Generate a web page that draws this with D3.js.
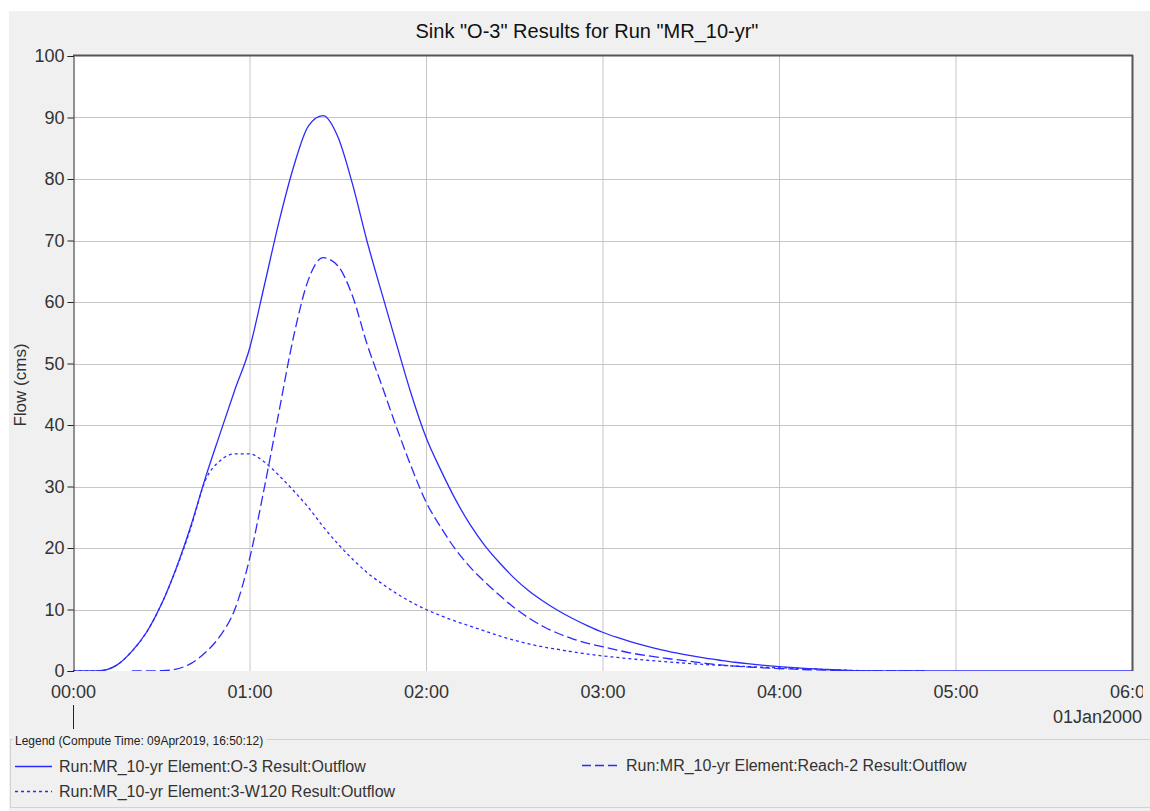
<!DOCTYPE html>
<html>
<head>
<meta charset="utf-8">
<script src="https://cdn.jsdelivr.net/npm/d3@7"></script>
<style>
  html, body { margin: 0; padding: 0; background: #ffffff; }
  svg { display: block; font-family: "Liberation Sans", Arial, sans-serif; }
</style>
</head>
<body>
<svg id="chart" width="1150" height="811"></svg>
<script>
// ---- data (minutes after 00:00, flow in cms) ----
const timesMin = [0,5,10,15,20,25,30,35,40,45,50,55,60,65,70,75,80,85,90,95,100,105,110,115,120,125,130,135,140,145,150,155,160,165,170,175,180,185,190,195,200,205,210,215,220,225,230,235,240,245,250,255,260,265,270,275,280,285,290,300,330,360];
const o3Outflow = [0,0,0.1,1.0,3.2,6.3,10.8,16.6,23.5,31.4,38.6,45.7,52.4,62.6,73.0,82.0,88.6,90.3,86.9,79.2,69.8,61.4,53.1,45.0,38.0,32.7,27.9,23.8,20.4,17.6,15.1,13.0,11.3,9.8,8.5,7.35,6.3,5.45,4.7,4.05,3.45,2.95,2.5,2.1,1.75,1.42,1.15,0.92,0.72,0.55,0.4,0.28,0.16,0.07,0.03,0.01,0,0,0,0,0,0];
const reach2Outflow = [null,null,null,null,0,0,0.05,0.3,1.2,3.0,5.7,10.0,18.2,29.7,42.1,54.4,63.6,67.2,65.9,61.0,53.1,46.4,39.6,33.2,27.5,23.4,19.8,16.9,14.5,12.3,10.3,8.6,7.2,6.1,5.2,4.5,3.95,3.4,2.9,2.5,2.15,1.85,1.55,1.25,1.0,0.8,0.65,0.5,0.4,0.3,0.2,0.15,0.1,0.05,0.03,0.02,0.01,0.01,0.01,null,null,null];
const w120Outflow = [0,0,0.1,1.0,3.2,6.3,10.8,16.5,23.2,31.0,34.2,35.3,35.3,34.0,31.8,29.3,26.6,23.5,20.7,18.2,16.0,14.2,12.6,11.2,10.0,9.0,8.1,7.3,6.5,5.7,5.0,4.4,3.9,3.5,3.1,2.75,2.45,2.2,1.95,1.75,1.55,1.38,1.2,1.05,0.92,0.8,0.7,0.6,0.52,0.44,0.35,0.25,0.16,0.1,0.05,0.03,0.02,0.02,0.02,null,null,null];

const xTickMinutes = [0,60,120,180,240,300,360];
const xTickLabels = ["00:00","01:00","02:00","03:00","04:00","05:00","06:00"];
const yTicks = [0,10,20,30,40,50,60,70,80,90,100];

const titleText = 'Sink "O-3" Results for Run "MR_10-yr"';
const yLabel = "Flow (cms)";
const dateLabel = "01Jan2000";
const legendTitle = "Legend (Compute Time: 09Apr2019, 16:50:12)";
const seriesNames = [
  "Run:MR_10-yr Element:O-3 Result:Outflow",
  "Run:MR_10-yr Element:Reach-2 Result:Outflow",
  "Run:MR_10-yr Element:3-W120 Result:Outflow"
];

// ---- layout ----
const svg = d3.select("#chart");
const plot = {left: 73, right: 1132, top: 56, bottom: 671};
const x = d3.scaleLinear().domain([0, 360]).range([plot.left, plot.right]);
const y = d3.scaleLinear().domain([0, 100]).range([plot.bottom, plot.top]);
const lineColor = "#2b2bff";

const defs = svg.append("defs");
defs.append("clipPath").attr("id", "panelClip")
  .append("rect").attr("x", 9).attr("y", 11).attr("width", 1134).attr("height", 800);
defs.append("clipPath").attr("id", "plotClip")
  .append("rect").attr("x", plot.left).attr("y", plot.top - 2)
  .attr("width", plot.right - plot.left).attr("height", plot.bottom - plot.top + 2);

// panel background
svg.append("rect").attr("x", 9).attr("y", 11).attr("width", 1141).attr("height", 800).attr("fill", "#f0f0f0");

// plot background
svg.append("rect").attr("x", plot.left).attr("y", plot.top)
  .attr("width", plot.right - plot.left).attr("height", plot.bottom - plot.top)
  .attr("fill", "#ffffff");

// gridlines
const grid = svg.append("g");
grid.selectAll("line.v").data(xTickMinutes.slice(1, -1)).enter().append("line")
  .attr("x1", d => x(d) + 0.5).attr("x2", d => x(d) + 0.5)
  .attr("y1", plot.top).attr("y2", plot.bottom)
  .attr("stroke", "#c6c6c6").attr("stroke-width", 1);
grid.selectAll("line.h").data(yTicks.slice(1, -1)).enter().append("line")
  .attr("x1", plot.left).attr("x2", plot.right)
  .attr("y1", d => Math.round(y(d)) + 0.5).attr("y2", d => Math.round(y(d)) + 0.5)
  .attr("stroke", "#c6c6c6").attr("stroke-width", 1);

// series
const rows = timesMin.map((t, i) => ({t, o3: o3Outflow[i], r2: reach2Outflow[i], w: w120Outflow[i]}));
function mkLine(key) {
  return d3.line()
    .defined(d => d[key] != null)
    .x(d => x(d.t)).y(d => y(d[key]))
    .curve(d3.curveMonotoneX);
}
const lines = svg.append("g").attr("clip-path", "url(#plotClip)");
lines.append("path").datum(rows).attr("d", mkLine("w"))
  .attr("fill", "none").attr("stroke", lineColor).attr("stroke-width", 1.3)
  .attr("stroke-dasharray", "3,3");
lines.append("path").datum(rows).attr("d", mkLine("r2"))
  .attr("fill", "none").attr("stroke", lineColor).attr("stroke-width", 1.3)
  .attr("stroke-dasharray", "10,4");
lines.append("path").datum(rows).attr("d", mkLine("o3"))
  .attr("fill", "none").attr("stroke", lineColor).attr("stroke-width", 1.3);

// frame: top & right
svg.append("line").attr("x1", plot.left).attr("x2", plot.right + 1)
  .attr("y1", plot.top - 0.5).attr("y2", plot.top - 0.5).attr("stroke", "#555").attr("stroke-width", 2);
svg.append("line").attr("x1", plot.right + 0.5).attr("x2", plot.right + 0.5)
  .attr("y1", plot.top - 1).attr("y2", plot.bottom).attr("stroke", "#555").attr("stroke-width", 2);

// axes
const yAxis = d3.axisLeft(y).tickValues(yTicks).tickSize(6).tickPadding(3).tickFormat(d3.format("d"));
const gy = svg.append("g").attr("transform", `translate(${plot.left + 0.5},0)`).call(yAxis);
gy.select(".domain").attr("stroke", "#222");
gy.selectAll(".tick line").attr("stroke", "#222");
gy.selectAll(".tick text").attr("font-size", 18).attr("fill", "#333")
  .attr("font-family", '"Liberation Sans", Arial, sans-serif');

const xAxis = d3.axisBottom(x).tickValues(xTickMinutes).tickSize(6).tickPadding(8)
  .tickFormat((d, i) => xTickLabels[i]);
const gx = svg.append("g").attr("transform", `translate(0,${plot.bottom + 0.5})`)
  .attr("clip-path", "url(#panelClip)").call(xAxis);
gx.select(".domain").attr("stroke", "#222");
gx.selectAll(".tick line").attr("stroke", "#222");
gx.selectAll(".tick text").attr("font-size", 18).attr("fill", "#333")
  .attr("font-family", '"Liberation Sans", Arial, sans-serif');

// day marker
svg.append("line").attr("x1", x(0) + 0.5).attr("x2", x(0) + 0.5)
  .attr("y1", 705).attr("y2", 729).attr("stroke", "#222").attr("stroke-width", 1);
svg.append("text").attr("x", 1142).attr("y", 723).attr("text-anchor", "end")
  .attr("font-size", 18).attr("fill", "#333").text(dateLabel);

// title
svg.append("text").attr("x", 587).attr("y", 38).attr("text-anchor", "middle")
  .attr("font-size", 20).attr("fill", "#111").text(titleText);

// y label
svg.append("text").attr("transform", "translate(26,385) rotate(-90)")
  .attr("text-anchor", "middle").attr("font-size", 17).attr("fill", "#333").text(yLabel);

// legend
svg.append("rect").attr("x", 10.5).attr("y", 739.5).attr("width", 1150).attr("height", 68)
  .attr("fill", "none").attr("stroke", "#d2d2d2");
svg.append("rect").attr("x", 13).attr("y", 733).attr("width", 254).attr("height", 14).attr("fill", "#f0f0f0");
svg.append("text").attr("x", 15).attr("y", 745).attr("font-size", 12).attr("fill", "#222").text(legendTitle);

const legendItems = [
  {name: seriesNames[0], dash: null, lx: 15, ly: 766},
  {name: seriesNames[1], dash: "9,4", lx: 582, ly: 765},
  {name: seriesNames[2], dash: "3,3", lx: 15, ly: 791}
];
const lg = svg.append("g");
legendItems.forEach(it => {
  lg.append("line").attr("x1", it.lx).attr("x2", it.lx + 37)
    .attr("y1", it.ly + 0.5).attr("y2", it.ly + 0.5)
    .attr("stroke", lineColor).attr("stroke-width", 1.3)
    .attr("stroke-dasharray", it.dash);
  lg.append("text").attr("x", it.lx + 44).attr("y", it.ly + 6)
    .attr("font-size", 16).attr("fill", "#333").text(it.name);
});
</script>
</body>
</html>
